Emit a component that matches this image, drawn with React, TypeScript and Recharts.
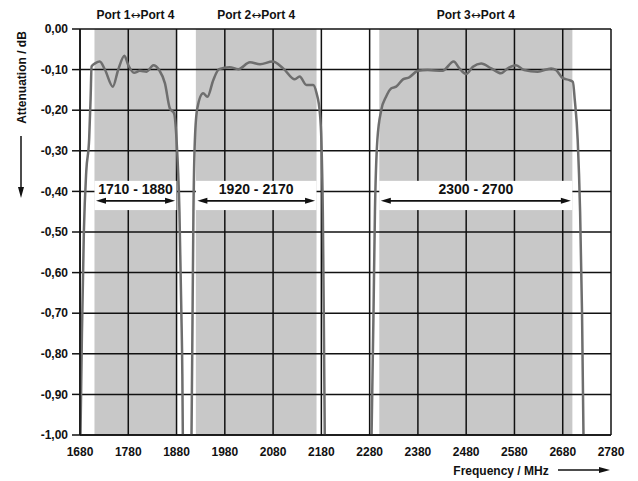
import { LineChart, Line, XAxis, YAxis, ReferenceArea, ReferenceLine } from 'recharts';

const xTicks = [1680, 1780, 1880, 1980, 2080, 2180, 2280, 2380, 2480, 2580, 2680, 2780];
const yTicks = [0, -0.1, -0.2, -0.3, -0.4, -0.5, -0.6, -0.7, -0.8, -0.9, -1.0];

const bandStart = [1710, 1920, 2300];
const bandEnd = [1880, 2170, 2700];
const bandPorts = ['Port 1', 'Port 2', 'Port 3'];
const commonPort = 'Port 4';
const bandRanges = ['1710 - 1880', '1920 - 2170', '2300 - 2700'];
const boxTop = -0.374;
const boxBottom = -0.446;

// Port 1 <-> Port 4
const port1Freq = [1681, 1684, 1688, 1693, 1699, 1702, 1704, 1712, 1721, 1732, 1748, 1759, 1772, 1780, 1792, 1804, 1818, 1832, 1844, 1856, 1866, 1875, 1880, 1886, 1890, 1892, 1893];
const port1Att = [-1.0, -0.75, -0.5, -0.35, -0.27, -0.17, -0.092, -0.084, -0.08, -0.101, -0.142, -0.101, -0.066, -0.089, -0.108, -0.103, -0.105, -0.089, -0.101, -0.134, -0.195, -0.208, -0.273, -0.45, -0.7, -0.85, -1.0];

// Port 2 <-> Port 4
const port2Freq = [1911, 1912.5, 1915, 1918, 1923, 1935, 1944, 1956, 1968, 1990, 2008, 2032, 2053, 2079, 2101, 2125, 2135, 2149, 2163, 2170, 2177, 2180, 2183, 2185, 2187];
const port2Att = [-1.0, -0.8, -0.45, -0.273, -0.195, -0.158, -0.167, -0.126, -0.099, -0.094, -0.099, -0.082, -0.087, -0.08, -0.097, -0.124, -0.117, -0.138, -0.138, -0.158, -0.208, -0.273, -0.45, -0.7, -1.0];

// Port 3 <-> Port 4
const port3Freq = [2284, 2288, 2291, 2296, 2304, 2314, 2325, 2335, 2349, 2362, 2380, 2400, 2431, 2454, 2466, 2480, 2494, 2511, 2532, 2552, 2566, 2583, 2600, 2628, 2656, 2666, 2680, 2694, 2701, 2705, 2711, 2716, 2720, 2723];
const port3Att = [-1.0, -0.7, -0.45, -0.273, -0.2, -0.167, -0.146, -0.142, -0.124, -0.119, -0.103, -0.101, -0.103, -0.08, -0.097, -0.111, -0.093, -0.085, -0.097, -0.109, -0.097, -0.089, -0.101, -0.105, -0.097, -0.101, -0.121, -0.126, -0.13, -0.175, -0.273, -0.45, -0.7, -1.0];

const toPoints = (freq: number[], att: number[]) => freq.map((f, i) => ({ f, v: att[i] }));
const curves = [toPoints(port1Freq, port1Att), toPoints(port2Freq, port2Att), toPoints(port3Freq, port3Att)];

const FONT = '"Liberation Sans", Arial, sans-serif';

function bandShape(port: string) {
  return (props: any) => {
    const { x, y, width, height } = props;
    return (
      <g>
        <rect x={x} y={y} width={width} height={height} fill="#c8c8c8" />
        <text x={x + width / 2} y={y - 10} textAnchor="middle" fontSize={12} fontWeight="bold" fill="#111" fontFamily={FONT}>
          {port}
          <tspan fontFamily='"DejaVu Sans", sans-serif' fontWeight="normal" fontSize={12}>↔</tspan>
          {commonPort}
        </text>
      </g>
    );
  };
}

function rangeBox(label: string) {
  return (props: any) => {
    const { x, y, width, height } = props;
    const ay = y + 20;
    const l = x + 1.5;
    const r = x + width - 1.5;
    const head = 10;
    return (
      <g>
        <rect x={x} y={y} width={width} height={height} fill="#fff" />
        <text x={x + width / 2} y={y + 13.5} textAnchor="middle" fontSize={14} fontWeight="bold" fill="#111" fontFamily={FONT}>
          {label}
        </text>
        <line x1={l + head - 1} x2={r - head + 1} y1={ay} y2={ay} stroke="#111" strokeWidth={1.6} />
        <polygon points={`${l},${ay} ${l + head},${ay - 3} ${l + head},${ay + 3}`} fill="#111" />
        <polygon points={`${r},${ay} ${r - head},${ay - 3} ${r - head},${ay + 3}`} fill="#111" />
      </g>
    );
  };
}

const yTitle = () => (
  <g>
    <text x={22} y={77.5} transform="rotate(-90, 22, 77.5)" textAnchor="middle" dominantBaseline="central" fontSize={12} fontWeight="bold" fill="#111" fontFamily={FONT}>
      Attenuation / dB
    </text>
    <line x1={21} x2={21} y1={136} y2={189} stroke="#111" strokeWidth={1.5} />
    <polygon points="21,198 18,187 24,187" fill="#111" />
  </g>
);

const xTitle = () => (
  <g>
    <text x={501} y={474.5} textAnchor="middle" fontSize={12} fontWeight="bold" fill="#111" fontFamily={FONT}>
      Frequency / MHz
    </text>
    <line x1={558} x2={601} y1={470} y2={470} stroke="#111" strokeWidth={1.5} />
    <polygon points="610,470 599,467 599,473" fill="#111" />
  </g>
);

export default function App() {
  const tick = { fontSize: 12, fontWeight: 'bold', fill: '#111', fontFamily: FONT };
  return (
    <div style={{ position: 'absolute', left: 0, top: 0, width: 638, height: 481, background: '#fff', fontFamily: FONT }}>
      <LineChart width={638} height={481} margin={{ top: 29, right: 27, bottom: 0, left: 0 }}>
        <XAxis
          type="number"
          dataKey="f"
          domain={[1680, 2780]}
          ticks={xTicks}
          allowDataOverflow
          height={46}
          tickLine={false}
          tickSize={0}
          tickMargin={12}
          axisLine={{ stroke: '#111', strokeWidth: 1.5 }}
          tick={tick}
          label={{ content: xTitle }}
        />
        <YAxis
          type="number"
          dataKey="v"
          domain={[-1, 0]}
          ticks={yTicks}
          allowDataOverflow
          width={80}
          tickSize={8}
          tickMargin={4}
          tickLine={{ stroke: '#111', strokeWidth: 1.5 }}
          axisLine={{ stroke: '#111', strokeWidth: 1.5 }}
          tick={tick}
          tickFormatter={(v: number) => v.toFixed(2).replace('.', ',')}
          label={{ content: yTitle }}
        />
        {bandStart.map((s, i) => (
          <ReferenceArea
            key={`band-${i}`}
            x1={s}
            x2={bandEnd[i]}
            y1={-1}
            y2={0}
            zIndex={50}
            shape={bandShape(bandPorts[i])}
          />
        ))}
        {xTicks.map((t) => (
          <ReferenceLine key={`gx-${t}`} x={t} stroke="#111" strokeWidth={1.5} zIndex={60} />
        ))}
        {yTicks.map((t) => (
          <ReferenceLine key={`gy-${t}`} y={t} stroke="#111" strokeWidth={1.5} zIndex={60} />
        ))}
        {bandStart.map((s, i) => (
          <ReferenceArea
            key={`box-${i}`}
            x1={s}
            x2={bandEnd[i]}
            y1={boxTop}
            y2={boxBottom}
            zIndex={70}
            shape={rangeBox(bandRanges[i])}
          />
        ))}
        {curves.map((d, i) => (
          <Line
            key={`curve-${i}`}
            data={d}
            dataKey="v"
            type="monotone"
            stroke="#6e6e6e"
            strokeWidth={2.5}
            dot={false}
            isAnimationActive={false}
            zIndex={400}
          />
        ))}
      </LineChart>
    </div>
  );
}
